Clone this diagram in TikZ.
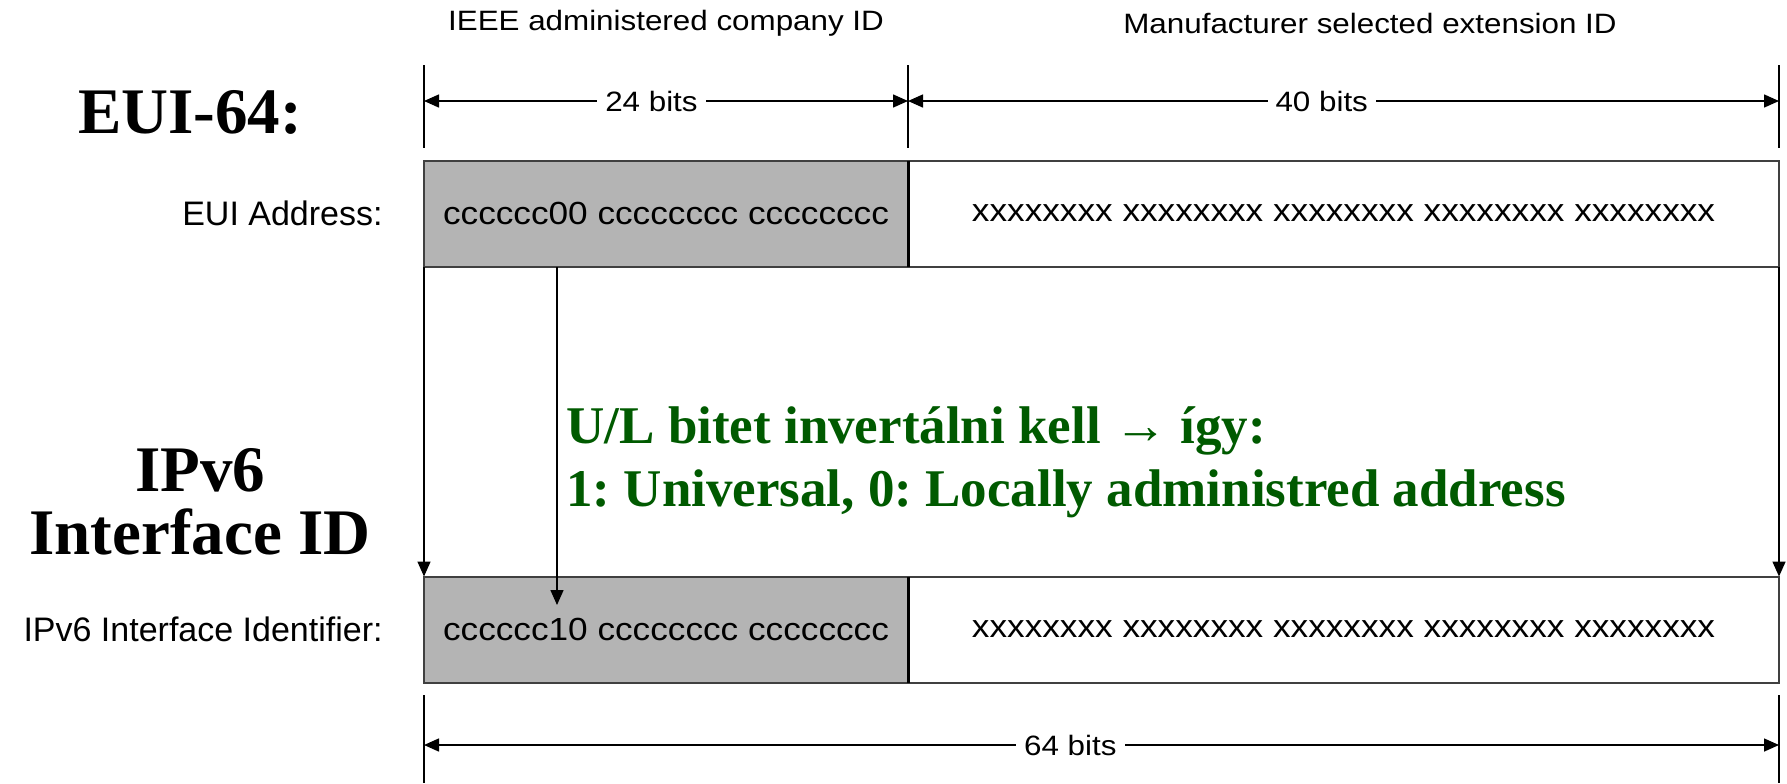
\documentclass[tikz,border=0pt]{standalone}
\usepackage{fontspec}
\setmainfont{Liberation Serif}
\newfontfamily\arialfont{Liberation Sans}
\newfontfamily\widefont[FakeStretch=1.12]{Liberation Sans}
\newfontfamily\bitsfont[FakeStretch=1.1]{Liberation Sans}
\usepackage{xcolor}
\usepackage{tikz}
\usetikzlibrary{positioning, arrows.meta}
\definecolor{fieldgray}{RGB}{180,180,180}
\definecolor{notegreen}{RGB}{0,90,0}
\frenchspacing
\tikzset{
    field/.style={rectangle, draw=black!75, line width=1pt, minimum height=53pt, inner sep=0pt, outer sep=0pt, font=\bitsfont\fontsize{16}{19}\selectfont},
    company/.style={field, fill=fieldgray, minimum width=242pt},
    extension/.style={field, fill=white, minimum width=435.5pt},
    rowlabel/.style={anchor=east, inner sep=0pt, font=\arialfont\fontsize{17}{20}\selectfont},
    header/.style={font=\widefont\fontsize{14}{17}\selectfont},
    dimlabel/.style={header, fill=white, inner sep=4pt},
    tick/.style={line width=0.75pt},
    divider/.style={line width=1.5pt, draw=black},
    dim/.style={{Triangle[length=7.5pt,width=6.5pt]}-{Triangle[length=7.5pt,width=6.5pt]}, line width=0.75pt},
    arrow/.style={-{Triangle[length=7.5pt,width=6.5pt]}, line width=0.75pt},
    title/.style={font=\bfseries\fontsize{32.5}{31.5}\selectfont, align=center, inner sep=0pt},
    note/.style={anchor=base west, text=notegreen, inner sep=0pt, font=\bfseries\fontsize{26.5}{30}\selectfont}
}

\begin{document}
\begin{tikzpicture}[x=0.5pt, y=-0.5pt]
        \useasboundingbox (0,0) rectangle (1787,783);

        % Titles
        \node[title, anchor=base] (euiTitle) at (190,133) {EUI-64:};
        \node[title] (ipTitle) at (200,502) {IPv6\\Interface ID};

        % Headers
        \node[header] (coHead) at (666,23) {IEEE administered company ID};
        \node[header] (extHead) at (1370,23) {Manufacturer selected extension ID};

        % Fields
        \node[company] (euiCo) at (666,213.5) {cccccc00 cccccccc cccccccc};
        \node[extension] (euiExt) at (1343.5,213.5) {xxxxxxxx xxxxxxxx xxxxxxxx xxxxxxxx xxxxxxxx};
        \node[company] (ipCo) at (666,629.5) {cccccc10 cccccccc cccccccc};
        \node[extension] (ipExt) at (1343.5,629.5) {xxxxxxxx xxxxxxxx xxxxxxxx xxxxxxxx xxxxxxxx};
        \draw[divider] (euiCo.north east) -- (euiCo.south east);
        \draw[divider] (ipCo.north east) -- (ipCo.south east);

        % Row labels
        \node[rowlabel] (euiLabel) at (383,213) {EUI Address:};
        \node[rowlabel] (ipLabel) at (383,629) {IPv6 Interface Identifier:};

        % Dimensions
        \coordinate (dimA) at (424,101);
        \coordinate (dimB) at (908,101);
        \coordinate (dimC) at (1779,101);
        \coordinate (dimL) at (424,745);
        \coordinate (dimR) at (1779,745);
        \draw[tick] (424,65) -- (424,148);
        \draw[tick] (908,65) -- (908,148);
        \draw[tick] (1779,65) -- (1779,148);
        \draw[tick] (424,695) -- (424,783);
        \draw[tick] (1779,695) -- (1779,783);
        \draw[dim] (dimA) -- node[dimlabel, pos=0.47] (bits24) {24 bits} (dimB);
        \draw[dim] (dimB) -- node[dimlabel, pos=0.475] (bits40) {40 bits} (dimC);
        \draw[dim] (dimL) -- node[dimlabel, pos=0.477] (bits64) {64 bits} (dimR);

        % Connections
        \coordinate (ulBit) at (557,267);
        \coordinate (ulTarget) at (557,605);
        \draw[arrow] (euiCo.south west) -- (ipCo.north west);
        \draw[arrow] (euiExt.south east) -- (ipExt.north east);
        \draw[arrow] (ulBit) -- (ulTarget);

        % Note
        \node[note] (noteA) at (566,443) {U/L bitet invertálni kell → így:};
        \node[note] (noteB) at (566,506) {1: Universal, 0: Locally administred address};

    \end{tikzpicture}
\end{document}
